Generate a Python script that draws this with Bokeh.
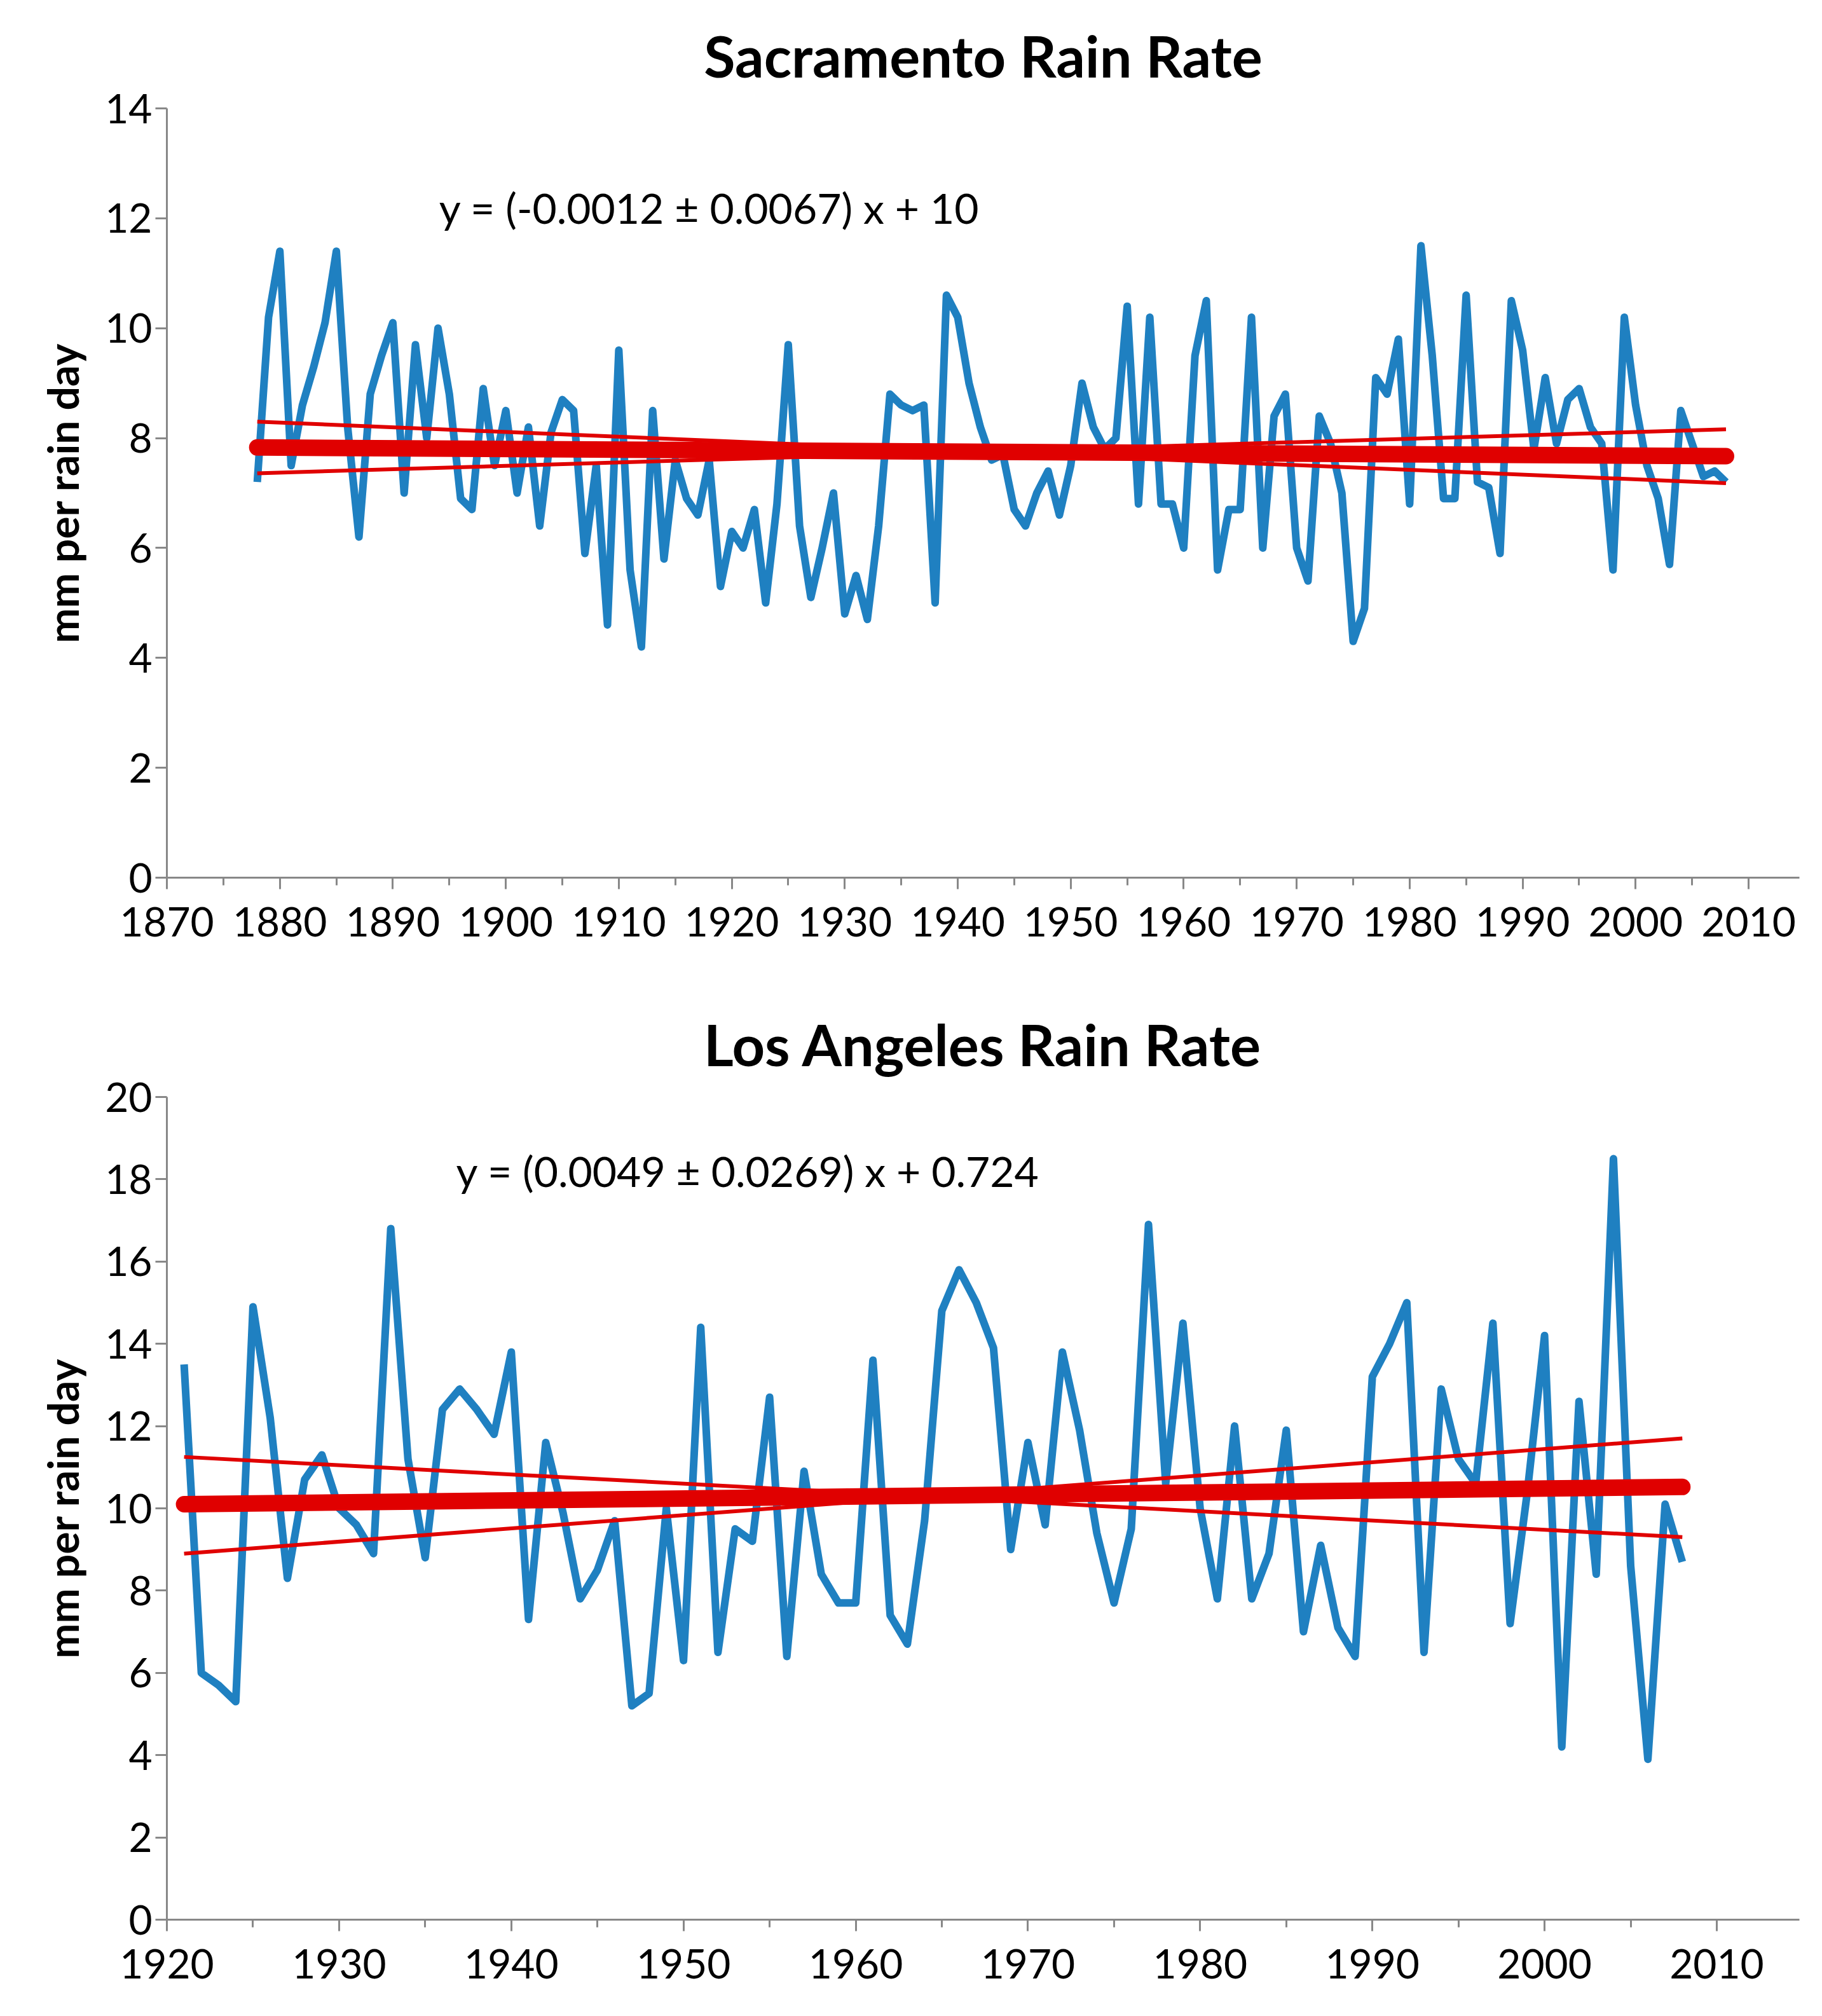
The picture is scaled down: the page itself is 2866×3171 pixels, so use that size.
import numpy as np
from bokeh.plotting import figure
from bokeh.layouts import column
from bokeh.models import SingleIntervalTicker, Range1d
from bokeh.core.properties import value
from bokeh.embed import file_html
from bokeh.resources import INLINE

sac_years = list(range(1878, 2009))
sac_rate = [7.2, 10.2, 11.4, 7.5, 8.6, 9.3, 10.1, 11.4, 8.2, 6.2, 8.8, 9.5, 10.1, 7.0, 9.7, 8.0, 10.0, 8.8, 6.9, 6.7,
            8.9, 7.5, 8.5, 7.0, 8.2, 6.4, 8.1, 8.7, 8.5, 5.9, 7.5, 4.6, 9.6, 5.6, 4.2, 8.5, 5.8, 7.6, 6.9, 6.6,
            7.6, 5.3, 6.3, 6.0, 6.7, 5.0, 6.8, 9.7, 6.4, 5.1, 6.0, 7.0, 4.8, 5.5, 4.7, 6.4, 8.8, 8.6, 8.5, 8.6,
            5.0, 10.6, 10.2, 9.0, 8.2, 7.6, 7.7, 6.7, 6.4, 7.0, 7.4, 6.6, 7.5, 9.0, 8.2, 7.8, 8.0, 10.4, 6.8, 10.2,
            6.8, 6.8, 6.0, 9.5, 10.5, 5.6, 6.7, 6.7, 10.2, 6.0, 8.4, 8.8, 6.0, 5.4, 8.4, 7.9, 7.0, 4.3, 4.9, 9.1,
            8.8, 9.8, 6.8, 11.5, 9.5, 6.9, 6.9, 10.6, 7.2, 7.1, 5.9, 10.5, 9.6, 7.8, 9.1, 7.9, 8.7, 8.9, 8.2, 7.9,
            5.6, 10.2, 8.6, 7.5, 6.9, 5.7, 8.5, 7.9, 7.3, 7.4, 7.2]
sac_trend_x = [1878, 2008]
sac_trend = [7.83, 7.67]
sac_band_a = [8.30, 7.18]
sac_band_b = [7.36, 8.16]
sac_eq = "y = (-0.0012 ± 0.0067) x + 10"

la_years = list(range(1921, 2009))
la_rate = [13.5, 6.0, 5.7, 5.3, 14.9, 12.2, 8.3, 10.7, 11.3, 10.0, 9.6, 8.9, 16.8, 11.2, 8.8, 12.4, 12.9, 12.4, 11.8, 13.8,
           7.3, 11.6, 9.9, 7.8, 8.5, 9.7, 5.2, 5.5, 10.0, 6.3, 14.4, 6.5, 9.5, 9.2, 12.7, 6.4, 10.9, 8.4, 7.7, 7.7,
           13.6, 7.4, 6.7, 9.7, 14.8, 15.8, 15.0, 13.9, 9.0, 11.6, 9.6, 13.8, 11.9, 9.4, 7.7, 9.5, 16.9, 10.6, 14.5, 10.0,
           7.8, 12.0, 7.8, 8.9, 11.9, 7.0, 9.1, 7.1, 6.4, 13.2, 14.0, 15.0, 6.5, 12.9, 11.2, 10.6, 14.5, 7.2, 10.4, 14.2,
           4.2, 12.6, 8.4, 18.5, 8.6, 3.9, 10.1, 8.7]
la_trend_x = [1921, 2008]
la_trend = [10.1, 10.52]
la_band_a = [11.25, 9.3]
la_band_b = [8.9, 11.7]
la_eq = "y = (0.0049 ± 0.0269) x + 0.724"

FONT = "Lato"
BLUE = "#1f80c1"
RED = "#e00000"


def make(title, years, rate, tx, tr, ba, bb, eq, xr, yr, ystep, eqx, eqy, h, bt, bb_):
    p = figure(width=2850, height=h, output_backend="svg", toolbar_location=None,
               x_range=Range1d(*xr), y_range=Range1d(*yr),
               min_border_left=262, min_border_right=20, min_border_top=bt, min_border_bottom=bb_)
    p.title.text = title
    p.title.align = "center"
    p.title.text_font = FONT
    p.title.text_font_style = "bold"
    p.title.text_font_size = "90px"
    p.title.text_color = "black"
    p.title.offset = 0
    p.title.standoff = 60
    p.outline_line_color = None
    p.grid.visible = False
    p.line(years, rate, line_color=BLUE, line_width=12, line_join="round")
    p.line(tx, ba, line_color=RED, line_width=6)
    p.line(tx, bb, line_color=RED, line_width=6)
    p.line(tx, tr, line_color=RED, line_width=26, line_cap="round")
    p.text([eqx], [eqy], text=[eq], text_font=value(FONT), text_font_size="66px",
           text_baseline="middle", text_color="black")
    p.xaxis.ticker = SingleIntervalTicker(interval=10, num_minor_ticks=2)
    p.yaxis.ticker = SingleIntervalTicker(interval=ystep, num_minor_ticks=0)
    for ax in (p.xaxis, p.yaxis):
        ax.axis_line_color = "#888888"
        ax.axis_line_width = 3
        ax.major_tick_line_color = "#888888"
        ax.minor_tick_line_color = "#888888"
        ax.major_tick_line_width = 3
        ax.minor_tick_line_width = 3
        ax.major_tick_in = 0
        ax.major_tick_out = 18
        ax.minor_tick_in = 0
        ax.minor_tick_out = 12
        ax.major_label_text_font = FONT
        ax.major_label_text_font_size = "64px"
        ax.major_label_text_color = "black"
    p.xaxis.major_label_standoff = 28
    p.yaxis.minor_tick_out = 0
    p.yaxis.axis_label = "mm per rain day"
    p.yaxis.axis_label_text_font = FONT
    p.yaxis.axis_label_text_font_style = "bold"
    p.yaxis.axis_label_text_font_size = "66px"
    p.yaxis.axis_label_text_color = "black"
    p.yaxis.axis_label_standoff = 24
    return p


p1 = make("Sacramento Rain Rate", sac_years, sac_rate, sac_trend_x, sac_trend, sac_band_a, sac_band_b,
          sac_eq, (1870, 2014.5), (0, 14), 2, 1894.1, 12.2, 1550, 170, 170)
p2 = make("Los Angeles Rain Rate", la_years, la_rate, la_trend_x, la_trend, la_band_a, la_band_b,
          la_eq, (1920, 2014.8), (0, 20), 2, 1936.8, 18.2, 1605, 175, 136)

layout = column(p1, p2, spacing=0)
open("out.html", "w").write(file_html(layout, INLINE))
